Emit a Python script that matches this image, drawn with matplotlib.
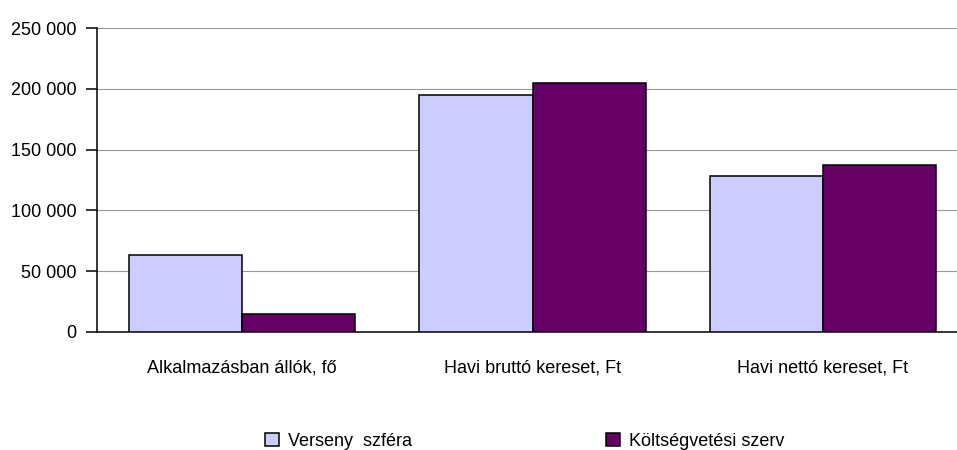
import matplotlib.pyplot as plt
from matplotlib.ticker import FuncFormatter, MultipleLocator

plt.rcParams['font.family'] = ['Liberation Sans', 'DejaVu Sans']

kategoriak = ["Alkalmazásban állók, fő", "Havi bruttó kereset, Ft", "Havi nettó kereset, Ft"]
verseny = [63000, 194800, 128400]
koltsegvetes = [15100, 204500, 137000]
nevek = ["Verseny  szféra", "Költségvetési szerv"]

szin_v = "#CCCCFF"
szin_k = "#660066"


def ezres(v, pos):
    return f"{int(v):,}".replace(",", " ")


fig = plt.figure(figsize=(9.57, 4.5), dpi=100)
ax = fig.add_axes([97 / 957, 118 / 450, 860 / 957, 304 / 450])

x = list(range(len(kategoriak)))
w = 0.39
b1 = ax.bar([i - w / 2 for i in x], verseny, w, color=szin_v,
            edgecolor="black", linewidth=1.1, zorder=3, label=nevek[0])
b2 = ax.bar([i + w / 2 for i in x], koltsegvetes, w, color=szin_k,
            edgecolor="black", linewidth=1.1, zorder=3, label=nevek[1])

ax.set_xlim(-0.5, 2.462)
ax.set_ylim(0, 250000)
ax.yaxis.set_major_locator(MultipleLocator(50000))
ax.yaxis.set_major_formatter(FuncFormatter(ezres))
ax.grid(axis="y", color="#999999", linewidth=0.8, zorder=0)

ax.set_xticks(x)
ax.set_xticklabels(kategoriak, fontsize=13)
ax.tick_params(axis="x", length=0, pad=20)
ax.tick_params(axis="y", length=8, width=1.1, pad=7, labelsize=13)

for s in ["top", "right"]:
    ax.spines[s].set_visible(False)
ax.spines["left"].set_linewidth(1.1)
ax.spines["bottom"].set_linewidth(1.1)

# legenda: ket kulon bejegyzes, mint az eredetin
for h, nev, xpos in [(b1, nevek[0], 265 / 957), (b2, nevek[1], 606 / 957)]:
    fig.legend([h], [nev], loc="center left", bbox_to_anchor=(xpos, 9 / 450),
               frameon=False, fontsize=13, handlelength=0.75, handleheight=0.75,
               handletextpad=0.5, borderpad=0, borderaxespad=0)

fig.savefig("out.png", dpi=100)
